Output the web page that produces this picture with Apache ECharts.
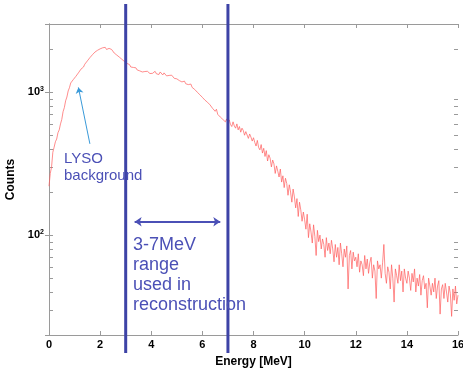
<!DOCTYPE html>
<html>
<head>
<meta charset="utf-8">
<script src="https://cdn.jsdelivr.net/npm/echarts@6/dist/echarts.min.js"></script>
<style>
  html, body { margin: 0; padding: 0; background: #fff; }
  #chart { width: 463px; height: 373px; }
</style>
</head>
<body>
<div id="chart"></div>
<script>
// spectrum, one value every 0.05 MeV from 0 to 16 MeV
var energyStep = 0.05;
var counts = [
  220, 270, 300, 380, 412, 450, 470, 520, 545, 600, 645, 730, 780, 870, 925, 1020, 1075, 1160, 1180, 1225,
  1235, 1290, 1300, 1365, 1380, 1450, 1465, 1500, 1570, 1600, 1655, 1680, 1745, 1760, 1830, 1840, 1910, 1925, 1965, 1990,
  2010, 1975, 2045, 2000, 2060, 1990, 2035, 2025, 1965, 1990, 1930, 1880, 1865, 1820, 1805, 1760, 1745, 1700, 1680, 1640,
  1600, 1590, 1545, 1560, 1500, 1525, 1490, 1455, 1480, 1430, 1445, 1410, 1435, 1385, 1410, 1395, 1360, 1400, 1375, 1350,
  1390, 1355, 1375, 1400, 1345, 1370, 1330, 1385, 1355, 1320, 1365, 1340, 1300, 1330, 1310, 1275, 1315, 1280, 1250, 1290,
  1240, 1255, 1205, 1230, 1180, 1210, 1195, 1145, 1175, 1130, 1110, 1140, 1080, 1100, 1045, 1070, 1000, 1025, 960, 990,
  920, 945, 880, 895, 850, 875, 815, 840, 770, 790, 735, 760, 700, 715, 670, 690, 645, 660, 620, 650,
  610, 640, 595, 575, 620, 580, 560, 600, 545, 575, 525, 560, 540, 500, 530, 515, 475, 510, 485, 455,
  480, 445, 420, 460, 410, 395, 430, 375, 405, 355, 390, 330, 365, 345, 300, 335, 315, 270, 305, 280,
  255, 290, 235, 260, 215, 250, 230, 190, 225, 200, 170, 210, 185, 155, 180, 135, 170, 150, 125, 145,
  128, 110, 140, 96, 120, 105, 88, 118, 98, 72, 108, 90, 100, 80, 94, 86, 70, 96, 78, 88,
  74, 92, 80, 65, 86, 70, 82, 62, 88, 74, 60, 80, 70, 84, 42, 72, 78, 58, 76, 66,
  70, 60, 74, 55, 66, 62, 52, 72, 58, 68, 54, 64, 70, 50, 62, 56, 36, 66, 58, 62,
  50, 64, 86, 54, 46, 60, 55, 42, 62, 50, 34, 58, 52, 46, 62, 48, 56, 40, 58, 50,
  46, 56, 50, 41, 54, 47, 58, 40, 50, 44, 53, 38, 48, 52, 42, 46, 31, 50, 44, 38,
  46, 40, 50, 36, 44, 48, 28, 42, 45, 36, 46, 40, 34, 44, 39, 27, 42, 35, 44, 33, 38
];

var xMin = 0, xMax = 16, xInterval = 2;
var yMin = 20, yMax = 3000;
var minorTickValues = [30, 40, 50, 60, 70, 80, 90, 200, 300, 400, 500, 600, 700, 800, 900, 2000];
var rangeEdges = [3, 7];
var rangeArrow = [[3.35, 124], [6.7, 124]];
var lysoArrow = [[1.6, 435], [1.15, 1080]];
var rangeText = '3-7MeV\nrange\nused in\nreconstruction';
var lysoText = 'LYSO\nbackground';

var font = '"Liberation Sans", Arial, sans-serif';
var boxColor = '#9a9a9a';
var annColor = '#4b50b6';

var spectrum = counts.map(function (c, i) {
  return [+(i * energyStep).toFixed(2), c];
});

var chart = echarts.init(document.getElementById('chart'), null, { renderer: 'canvas' });

var axisTick = { show: true, inside: true, length: 4, lineStyle: { color: boxColor } };
var axisLine = { show: true, lineStyle: { color: boxColor, width: 1 } };

var option = {
  animation: false,
  backgroundColor: '#fff',
  grid: { left: 49, right: 5, top: 24, bottom: 38, containLabel: false, outerBoundsMode: 'none' },
  xAxis: [{
    type: 'value', min: xMin, max: xMax, interval: xInterval, position: 'bottom',
    axisLine: axisLine, axisTick: axisTick, splitLine: { show: false },
    axisLabel: { margin: 4, color: '#000', fontFamily: font, fontWeight: 'bold', fontSize: 11, showMinLabel: true, showMaxLabel: true },
    name: 'Energy [MeV]', nameLocation: 'middle', nameGap: 21,
    nameTextStyle: { color: '#000', fontFamily: font, fontWeight: 'bold', fontSize: 12 }
  }, {
    type: 'value', min: xMin, max: xMax, interval: xInterval, position: 'top',
    axisLine: axisLine, axisTick: axisTick, splitLine: { show: false }, axisLabel: { show: false }
  }],
  yAxis: [{
    type: 'log', logBase: 10, min: yMin, max: yMax, position: 'left',
    axisLine: axisLine, axisTick: axisTick, splitLine: { show: false },
    axisLabel: {
      margin: 5,
      formatter: function (v) {
        var lg = Math.log10(v);
        if (Math.abs(lg - Math.round(lg)) > 1e-6) return '';
        return '{b|10}{s|' + Math.round(lg) + '}';
      },
      rich: {
        b: { fontFamily: font, fontWeight: 'bold', fontSize: 11, color: '#000', lineHeight: 13 },
        s: { fontFamily: font, fontWeight: 'bold', fontSize: 7, color: '#000', lineHeight: 13, verticalAlign: 'top' }
      }
    },
    name: 'Counts', nameLocation: 'middle', nameGap: 31, nameRotate: 90,
    nameTextStyle: { color: '#000', fontFamily: font, fontWeight: 'bold', fontSize: 12 }
  }, {
    type: 'log', logBase: 10, min: yMin, max: yMax, position: 'right',
    axisLine: axisLine, axisTick: axisTick, splitLine: { show: false }, axisLabel: { show: false }
  }],
  series: [{
    // minor log ticks on both sides of the box
    type: 'custom', xAxisIndex: 0, yAxisIndex: 0, silent: true, clip: false, z: 1,
    data: minorTickValues.map(function (v) { return [xMin, v]; }),
    renderItem: function (params, api) {
      var v = api.value(1);
      var l = api.coord([xMin, v]);
      var r = api.coord([xMax, v]);
      var y = Math.round(l[1]) + 0.5;
      return {
        type: 'group', children: [
          { type: 'line', shape: { x1: l[0], y1: y, x2: l[0] + 4, y2: y }, style: { stroke: boxColor, lineWidth: 1 } },
          { type: 'line', shape: { x1: r[0], y1: y, x2: r[0] - 4, y2: y }, style: { stroke: boxColor, lineWidth: 1 } }
        ]
      };
    }
  }, {
    name: 'spectrum', type: 'line', data: spectrum, showSymbol: false, symbol: 'none',
    lineStyle: { color: '#ff5c5c', width: 0.7 }, z: 2, silent: true,
    markLine: {
      silent: true, animation: false, label: { show: false },
      data: [
        [{ coord: rangeArrow[0], symbol: 'arrow', symbolSize: 7, lineStyle: { color: annColor, width: 2, type: 'solid' } },
         { coord: rangeArrow[1], symbol: 'arrow', symbolSize: 7 }],
        [{ coord: lysoArrow[0], symbol: 'none', lineStyle: { color: '#3a9ad9', width: 1, type: 'solid' } },
         { coord: lysoArrow[1], symbol: 'arrow', symbolSize: 6 }]
      ]
    }
  }, {
    // 3 MeV and 7 MeV range markers
    type: 'custom', silent: true, clip: false, z: 5,
    data: rangeEdges.map(function (e) { return [e, yMin]; }),
    renderItem: function (params, api) {
      var x = api.value(0);
      var top = api.coord([x, yMax]);
      var bot = api.coord([x, yMin]);
      return {
        type: 'line',
        shape: { x1: top[0], y1: top[1] - 20, x2: bot[0], y2: bot[1] + 18 },
        style: { stroke: '#3d43a6', lineWidth: 3 }
      };
    }
  }],
  graphic: [{
    type: 'text', left: 133, top: 235, z: 10,
    style: { text: rangeText, font: '18px ' + font, fill: annColor, lineHeight: 20 }
  }, {
    type: 'text', left: 64, top: 150, z: 10,
    style: { text: lysoText, font: '15px ' + font, fill: annColor, lineHeight: 17 }
  }]
};

chart.setOption(option);
</script>
</body>
</html>
